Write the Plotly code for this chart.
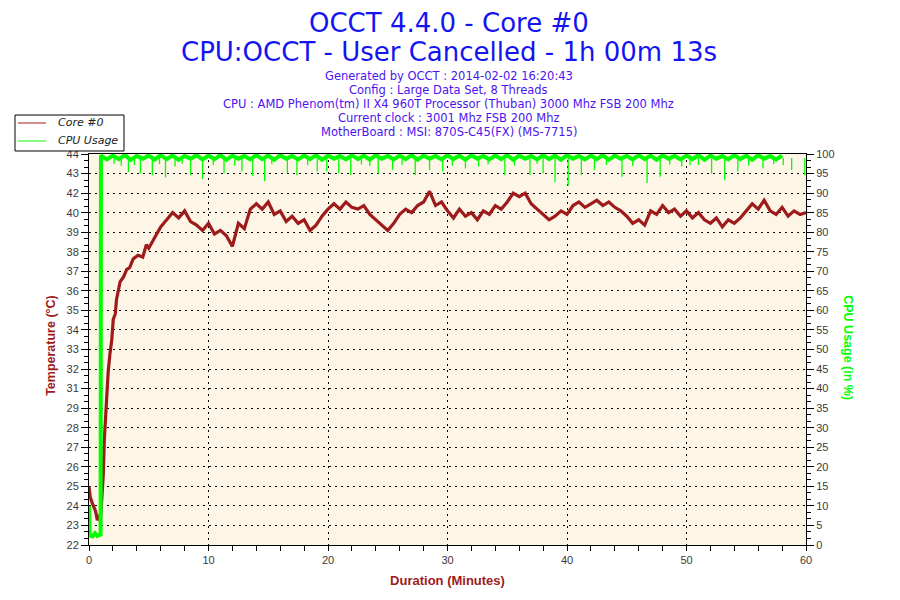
"""
OCCT log chart: Core #0 temperature and CPU usage over a 1h run.
"""
import plotly.graph_objects as go

# Temperature of core #0 (deg C), sampled in minutes since start
temp_minutes = [0, 0.1, 0.25, 0.4, 0.55, 0.7, 0.85, 0.95, 1.06, 1.2, 1.28, 1.4,
                1.5, 1.6, 1.76, 1.9, 2.03, 2.2, 2.3, 2.45, 2.6, 2.9, 3.15, 3.4,
                3.7, 4.1, 4.5, 4.8, 5.0, 5.5, 6.0, 6.5, 7.0, 7.5, 8.0, 8.5,
                9.0, 9.5, 10.0, 10.5, 11.0, 11.5, 12.0, 12.5, 13.0, 13.5, 14.0,
                14.5, 15.0, 15.5, 16.0, 16.5, 17.0, 17.5, 18.0, 18.5, 19.0,
                19.5, 20.0, 20.5, 21.0, 21.5, 22.0, 22.5, 23.0, 23.5, 24.0,
                24.5, 25.0, 25.5, 26.0, 26.5, 27.0, 27.5, 28.0, 28.5, 29.0,
                29.5, 30.0, 30.5, 31.0, 31.5, 32.0, 32.5, 33.0, 33.5, 34.0,
                34.5, 35.0, 35.5, 36.0, 36.5, 37.0, 37.5, 38.0, 38.5, 39.0,
                39.5, 40.0, 40.5, 41.0, 41.5, 42.0, 42.5, 43.0, 43.5, 44.0,
                44.5, 45.0, 45.5, 46.0, 46.5, 47.0, 47.5, 48.0, 48.5, 49.0,
                49.5, 50.0, 50.5, 51.0, 51.5, 52.0, 52.5, 53.0, 53.5, 54.0,
                54.5, 55.0, 55.5, 56.0, 56.5, 57.0, 57.5, 58.0, 58.5, 59.0,
                59.5, 60.0]
temp_values = [25.3, 24.7, 24.4, 24.1, 23.9, 23.4, 23.7, 23.3, 24.5, 26.0, 27.9, 29.6,
               30.9, 31.7, 32.8, 33.5, 34.7, 35.0, 35.8, 36.3, 36.8, 37.1, 37.5, 37.6,
               38.1, 38.3, 38.2, 38.9, 38.7, 39.3, 39.9, 40.3, 40.7, 40.4, 40.8, 40.2,
               40.0, 39.7, 40.1, 39.5, 39.7, 39.4, 38.8, 40.1, 39.8, 40.9, 41.2,
               40.9, 41.3, 40.6, 40.8, 40.2, 40.5, 40.1, 40.3, 39.7, 40.0,
               40.5, 40.9, 41.2, 40.9, 41.3, 41.0, 40.9, 41.1, 40.6, 40.3,
               40.0, 39.7, 40.1, 40.6, 40.9, 40.7, 41.1, 41.3, 41.9, 41.1,
               41.3, 40.8, 40.4, 40.9, 40.5, 40.7, 40.3, 40.8, 40.6, 41.1,
               40.9, 41.3, 41.8, 41.6, 41.8, 41.2, 40.9, 40.6, 40.3, 40.5,
               40.8, 40.6, 41.1, 41.3, 41.0, 41.2, 41.4, 41.1, 41.3, 41.0,
               40.8, 40.5, 40.1, 40.3, 40.0, 40.8, 40.6, 41.1, 40.7, 40.9,
               40.5, 40.8, 40.4, 40.7, 40.3, 40.1, 40.4, 39.9, 40.3, 40.1,
               40.4, 40.8, 41.2, 40.9, 41.4, 40.8, 40.6, 41.0, 40.5, 40.8,
               40.6, 40.7]

# CPU usage (%), base level
cpu_minutes = [0, 0.05, 0.3, 0.5, 0.7, 0.9, 0.97, 1.0, 1.5, 2.0, 2.5, 3.0, 3.5,
               4.0, 4.5, 5.0, 5.5, 6.0, 6.5, 7.0, 7.5, 8.0, 8.5, 9.0, 9.5,
               10.0, 10.5, 11.0, 11.5, 12.0, 12.5, 13.0, 13.5, 14.0, 14.5,
               15.0, 15.5, 16.0, 16.5, 17.0, 17.5, 18.0, 18.5, 19.0, 19.5,
               20.0, 20.5, 21.0, 21.5, 22.0, 22.5, 23.0, 23.5, 24.0, 24.5,
               25.0, 25.5, 26.0, 26.5, 27.0, 27.5, 28.0, 28.5, 29.0, 29.5,
               30.0, 30.5, 31.0, 31.5, 32.0, 32.5, 33.0, 33.5, 34.0, 34.5,
               35.0, 35.5, 36.0, 36.5, 37.0, 37.5, 38.0, 38.5, 39.0, 39.5,
               40.0, 40.5, 41.0, 41.5, 42.0, 42.5, 43.0, 43.5, 44.0, 44.5,
               45.0, 45.5, 46.0, 46.5, 47.0, 47.5, 48.0, 48.5, 49.0, 49.5,
               50.0, 50.5, 51.0, 51.5, 52.0, 52.5, 53.0, 53.5, 54.0, 54.5,
               55.0, 55.5, 56.0, 56.5, 57.0, 57.5, 58.0, 58.5, 59.0, 59.5, 60.0]
cpu_values = [10, 2.5, 2.2, 3.0, 2.3, 2.6, 2.3, 99.6, 98.6, 99.6, 98.7, 99.7, 98.5,
              99.5, 98.8, 99.6, 98.6, 99.7, 98.7, 99.6, 98.5, 99.5, 98.8,
              99.7, 98.6, 99.6, 98.7, 99.7, 98.5, 99.6, 98.8, 99.5, 98.6,
              99.7, 98.7, 99.6, 98.5, 99.7, 98.8, 99.5, 98.6, 99.6, 98.7,
              99.7, 98.5, 99.6, 98.8, 99.5, 98.6, 99.7, 98.7, 99.6, 98.5,
              99.7, 98.8, 99.5, 98.6, 99.6, 98.7, 99.7, 98.5, 99.6, 98.8,
              99.5, 98.6, 99.7, 98.7, 99.6, 98.5, 99.7, 98.8, 99.5, 98.6,
              99.6, 98.7, 99.7, 98.5, 99.6, 98.8, 99.5, 98.6, 99.7, 98.7,
              99.6, 98.5, 99.7, 98.8, 99.5, 98.6, 99.6, 98.7, 99.7, 98.5,
              99.6, 98.8, 99.5, 98.6, 99.7, 98.7, 99.6, 98.5, 99.7, 98.8,
              99.5, 98.6, 99.6, 98.7, 99.7, 98.5, 99.6, 98.8, 99.5, 98.6,
              99.7, 98.7, 99.6, 98.5, 99.7, 98.8, 99.5, 98.6, 99.6]

# short drops in CPU usage
cpu_dip_minutes = [2.1, 2.7, 3.3, 3.8, 4.3, 5.3, 5.9, 6.4, 7.2, 7.8, 8.5, 9.5,
                   10.4, 11.3, 12.2, 12.8, 13.7, 14.7, 15.3, 16.6, 17.4, 18.3,
                   19.1, 19.9, 20.9, 21.9, 22.8, 23.5, 24.2, 25.4, 26.2, 27.3,
                   28.5, 29.6, 30.4, 31.5, 32.6, 33.4, 34.8, 35.6, 36.9, 37.5,
                   38.0, 39.0, 40.1, 41.2, 42.3, 43.3, 44.6, 45.5, 46.7, 47.8,
                   48.6, 49.6, 50.3, 51.0, 52.1, 53.2, 54.3, 55.2, 56.4, 57.3,
                   58.1, 58.8, 59.9]
cpu_dip_values = [97.5, 97.0, 95.4, 97.2, 95.0, 94.6, 97.4, 94.0, 96.8, 97.5, 94.6, 93.6,
                  97.2, 95.1, 97.0, 95.5, 94.4, 93.0, 97.4, 95.1, 94.6, 97.1,
                  95.5, 95.5, 95.1, 94.6, 97.3, 96.9, 95.0, 95.9, 97.2, 94.6,
                  95.9, 95.5, 97.0, 96.3, 96.8, 97.4, 94.6, 97.1, 94.6, 97.5,
                  95.1, 92.8, 91.8, 94.6, 95.9, 97.2, 94.2, 96.9, 92.6, 94.2,
                  97.3, 96.8, 97.1, 97.2, 95.0, 93.3, 95.5, 97.0, 96.3, 97.4,
                  97.2, 95.9, 94.6]

# OCCT prints rounded labels on a 22..44 scale split into 20 steps
temp_tick_labels = ["22", "23", "24", "25", "26", "27", "28", "29", "31", "32", "33",
                    "34", "35", "36", "37", "38", "39", "40", "42", "43", "44"]

TITLE = "OCCT 4.4.0 - Core #0"
SUBTITLE = "CPU:OCCT - User Cancelled - 1h 00m 13s"
INFO_LINES = ["Generated by OCCT : 2014-02-02 16:20:43",
              "Config : Large Data Set, 8 Threads",
              "CPU : AMD Phenom(tm) II X4 960T Processor (Thuban) 3000 Mhz FSB 200 Mhz",
              "Current clock : 3001 Mhz FSB 200 Mhz",
              "MotherBoard : MSI: 870S-C45(FX) (MS-7715)"]
LEGEND_NAMES = ["Core #0", "CPU Usage"]

RED = "#9E1B1B"
GREEN = "#00FF00"
TICK_FONT = dict(family="Liberation Sans, Arial", size=11, color="#3a3a3a")


def add_legend_box(fig):
    """OCCT style legend box sitting left of the plot, above the y axis"""
    fig.add_shape(type="rect", xref="paper", yref="paper",
                  x0=-0.1032, x1=0.0488, y0=1.0077, y1=1.0997,
                  line=dict(color="black", width=1), fillcolor="white", layer="above")
    for i, (name, color) in enumerate(zip(LEGEND_NAMES, [RED, GREEN])):
        y = 1.0793 - i * 0.046
        fig.add_shape(type="line", xref="paper", yref="paper",
                      x0=-0.099, x1=-0.060, y0=y, y1=y,
                      line=dict(color=color, width=1), layer="above")
        fig.add_annotation(text=name, xref="paper", yref="paper", x=-0.046, y=y,
                           xanchor="left", yanchor="middle", showarrow=False,
                           font=dict(family="DejaVu Sans", size=11, color="#222",
                                     style="italic"))


def build_figure():
    fig = go.Figure()

    fig.add_trace(go.Scatter(x=temp_minutes, y=temp_values, name="Core #0",
                             mode="lines", line=dict(color=RED, width=3.2)))
    fig.add_trace(go.Scatter(x=cpu_minutes, y=cpu_values, name="CPU Usage", yaxis="y2",
                             mode="lines", line=dict(color=GREEN, width=4)))

    # vertical spikes for the dips
    dx, dy = [], []
    for t, v in zip(cpu_dip_minutes, cpu_dip_values):
        dx += [t, t, None]
        dy += [99.0, v, None]
    fig.add_trace(go.Scatter(x=dx, y=dy, yaxis="y2", mode="lines",
                             line=dict(color=GREEN, width=1.3)))

    temp_ticks = [22 + 1.1 * k for k in range(len(temp_tick_labels))]

    # the page body adds 8px around the figure, so margins are set 8px tighter
    fig.update_layout(
        width=900, height=600,
        margin=dict(l=81, r=102, t=146, b=63, autoexpand=False),
        paper_bgcolor="white",
        plot_bgcolor="#FDF5E6",
        showlegend=False,
        xaxis=dict(range=[0, 60], dtick=10, tick0=0, showline=True, linecolor="black",
                   linewidth=1, mirror=True, ticks="outside", ticklen=5, tickcolor="black",
                   minor=dict(dtick=2, ticks="outside", ticklen=5, tickcolor="black"),
                   showgrid=True, gridcolor="black", griddash="1.5px,4.5px", gridwidth=1,
                   zeroline=False, tickfont=TICK_FONT,
                   title=dict(text="<b>Duration (Minutes)</b>", standoff=10,
                              font=dict(family="Liberation Sans, Arial", size=13, color=RED))),
        yaxis=dict(range=[22, 44], tickvals=temp_ticks, ticktext=temp_tick_labels,
                   showline=True, linecolor="black", linewidth=1, ticks="outside",
                   ticklen=7, tickcolor="black",
                   minor=dict(tickvals=[22 + 1.1 * k / 3 for k in range(61)],
                              ticks="outside", ticklen=4, tickcolor="black"),
                   showgrid=False, zeroline=False, tickfont=TICK_FONT),
        yaxis2=dict(range=[0, 100], dtick=5, overlaying="y", side="right",
                    showline=True, linecolor="black", linewidth=1, ticks="outside",
                    ticklen=7, tickcolor="black",
                    minor=dict(dtick=5 / 3, ticks="outside", ticklen=4, tickcolor="black"),
                    showgrid=True, gridcolor="black", griddash="1.5px,4.5px", gridwidth=1,
                    zeroline=False, tickfont=TICK_FONT),
    )

    fig.add_annotation(text=TITLE, xref="paper", yref="paper", x=0.502, y=1.336,
                       showarrow=False, xanchor="center", yanchor="middle",
                       font=dict(family="DejaVu Sans", size=26, color="#1414F0"))
    fig.add_annotation(text=SUBTITLE, xref="paper", yref="paper", x=0.502, y=1.261,
                       showarrow=False, xanchor="center", yanchor="middle",
                       font=dict(family="DejaVu Sans", size=26, color="#1414F0"))
    for i, line in enumerate(INFO_LINES):
        fig.add_annotation(text=line, xref="paper", yref="paper", x=0.502,
                           y=1.1995 - i * 0.0358, showarrow=False,
                           xanchor="center", yanchor="middle",
                           font=dict(family="DejaVu Sans", size=11.5, color="#4A14F0"))

    fig.add_annotation(text="<b>Temperature (°C)</b>", xref="paper", yref="paper",
                       x=-0.054, y=0.51, textangle=-90, showarrow=False,
                       xanchor="center", yanchor="middle",
                       font=dict(family="Liberation Sans, Arial", size=12.5, color=RED))
    fig.add_annotation(text="<b>CPU Usage (in %)</b>", xref="paper", yref="paper",
                       x=1.059, y=0.505, textangle=90, showarrow=False,
                       xanchor="center", yanchor="middle",
                       font=dict(family="Liberation Sans, Arial", size=12.5, color=GREEN))

    add_legend_box(fig)
    return fig


def main():
    fig = build_figure()
    fig.write_html("out.html")


if __name__ == '__main__':
    main()
